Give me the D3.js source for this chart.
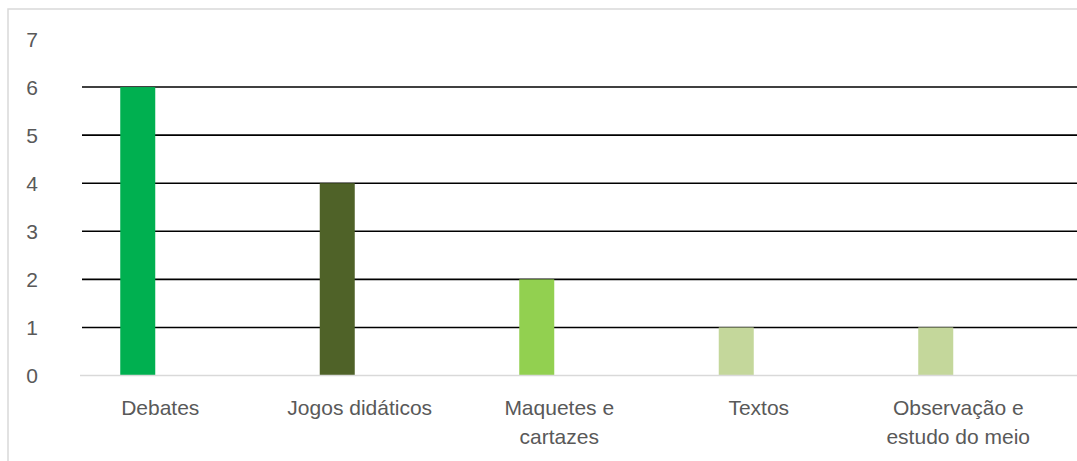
<!DOCTYPE html>
<html><head><meta charset="utf-8">
<script src="https://cdn.jsdelivr.net/npm/d3@7"></script>
<style>html,body{margin:0;padding:0;background:#fff;}svg{display:block;}</style>
</head><body>
<script>
const categories = ["Debates", "Jogos didáticos", "Maquetes e cartazes", "Textos", "Observação e estudo do meio"];
const labelLines = [["Debates"], ["Jogos didáticos"], ["Maquetes e", "cartazes"], ["Textos"], ["Observação e", "estudo do meio"]];
const values = [6, 4, 2, 1, 1];
const colors = ["#00B050", "#4F6228", "#92D050", "#C4D79B", "#C4D79B"];
const yTicks = [0, 1, 2, 3, 4, 5, 6, 7];
const gridTicks = [1, 2, 3, 4, 5, 6];

const W = 1077, H = 461;
const svg = d3.select("body").append("svg").attr("width", W).attr("height", H);
const font = "'Liberation Sans', Arial, sans-serif";

svg.append("rect").attr("x", 8).attr("y", 9).attr("width", 1200).attr("height", 600)
  .attr("fill", "#fff").attr("stroke", "#D9D9D9").attr("stroke-width", 1.5);

const y = d3.scaleLinear().domain([0, 7]).range([375.5, 39]);
const x = d3.scaleBand().domain(categories).range([60.5, 1058]);

svg.append("g").selectAll("line").data(gridTicks).join("line")
  .attr("x1", 82).attr("x2", W).attr("y1", d => y(d)).attr("y2", d => y(d))
  .attr("stroke", "#000").attr("stroke-width", 1.6);

svg.append("g").selectAll("rect").data(categories).join("rect")
  .attr("x", d => x(d) + x.bandwidth() / 2 - 40)
  .attr("width", 35)
  .attr("y", (d, i) => y(values[i]))
  .attr("height", (d, i) => y(0) - y(values[i]))
  .attr("fill", (d, i) => colors[i]);

svg.append("line").attr("x1", 80).attr("x2", W).attr("y1", y(0)).attr("y2", y(0))
  .attr("stroke", "#D9D9D9").attr("stroke-width", 1.5);

svg.append("g").selectAll("text").data(yTicks).join("text")
  .attr("x", 38).attr("y", d => y(d)).attr("dy", "0.36em")
  .attr("text-anchor", "end").attr("font-family", font).attr("font-size", 21)
  .attr("fill", "#595959").text(d => d);

const xl = svg.append("g").selectAll("text").data(categories).join("text")
  .attr("x", d => x(d) + x.bandwidth() / 2).attr("y", 415)
  .attr("text-anchor", "middle").attr("font-family", font).attr("font-size", 21)
  .attr("fill", "#595959");
xl.each(function(d, i) {
  const t = d3.select(this);
  labelLines[i].forEach((ln, j) => {
    t.append("tspan").attr("x", x(d) + x.bandwidth() / 2).attr("y", 415 + j * 29).text(ln);
  });
});
</script>
</body></html>
